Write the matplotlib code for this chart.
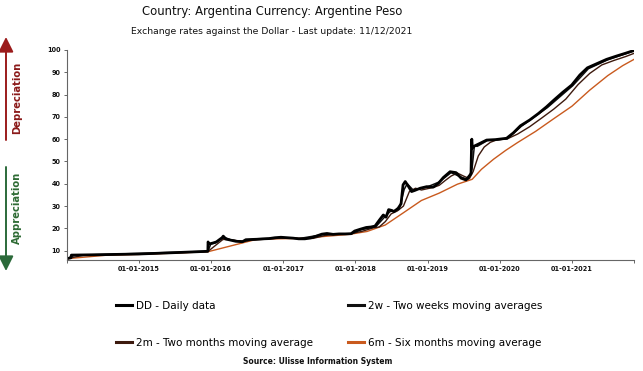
import matplotlib
matplotlib.use("Agg")
import matplotlib.pyplot as plt
from matplotlib.patches import FancyArrowPatch
import pandas as pd

# Daily data (DD)
dd_dates = ["2014-01-02", "2014-01-22", "2014-01-24", "2014-07-01", "2015-01-01", "2015-07-01",
            "2015-12-16", "2015-12-17", "2015-12-22", "2016-01-10", "2016-01-28", "2016-02-12",
            "2016-02-26", "2016-03-03", "2016-03-16", "2016-04-05", "2016-05-05", "2016-06-08",
            "2016-06-25", "2016-07-20", "2016-08-20", "2016-09-20", "2016-10-20", "2016-11-20",
            "2016-12-20", "2017-01-20", "2017-02-20", "2017-03-20", "2017-04-20", "2017-05-20",
            "2017-06-20", "2017-07-15", "2017-08-10", "2017-09-10", "2017-10-10", "2017-11-10",
            "2017-12-10", "2017-12-28", "2018-01-25", "2018-02-25", "2018-03-20", "2018-04-10",
            "2018-05-03", "2018-05-22", "2018-06-05", "2018-06-18", "2018-07-05", "2018-07-15",
            "2018-08-05", "2018-08-20", "2018-08-24", "2018-08-30", "2018-09-10", "2018-09-25",
            "2018-10-12", "2018-10-28", "2018-11-25", "2018-12-28", "2019-01-30", "2019-02-25",
            "2019-03-22", "2019-04-25", "2019-05-25", "2019-06-20", "2019-07-15", "2019-08-09",
            "2019-08-12", "2019-08-13", "2019-08-16", "2019-08-28", "2019-09-25", "2019-10-27",
            "2019-12-10", "2020-02-05", "2020-03-10", "2020-04-15", "2020-06-01", "2020-07-15",
            "2020-08-25", "2020-10-01", "2020-11-15", "2020-12-31", "2021-02-10", "2021-03-20",
            "2021-05-05", "2021-06-25", "2021-08-15", "2021-10-01", "2021-11-11"]
dd_values = [6.4, 6.8, 8.0, 8.2, 8.5, 9.1,
             9.7, 13.9, 13.0, 13.4, 13.9, 14.9,
             15.8, 16.5, 15.2, 14.8, 14.2, 14.0,
             14.9, 15.0, 15.1, 15.3, 15.4, 15.8,
             16.0, 15.8, 15.6, 15.3, 15.3, 15.7,
             16.6, 17.4, 17.7, 17.3, 17.5, 17.5,
             17.6, 18.8, 19.6, 20.4, 20.6, 21.0,
             23.8, 26.0, 25.0, 28.4, 28.0, 27.5,
             29.0, 31.0, 34.5, 39.5, 41.0, 39.0,
             36.5, 37.0, 38.0, 38.7, 38.5, 40.2,
             42.8, 45.4, 45.0, 42.5, 41.7, 44.5,
             59.0, 60.0, 56.0, 57.0, 58.2, 59.6,
             59.8, 60.4, 62.8, 66.0, 68.6, 71.5,
             74.5, 77.5, 81.0, 84.3, 88.8, 92.0,
             93.8, 95.8, 97.3, 98.6, 99.8]

# 2w - two weeks moving average
w2_dates = ["2014-01-02", "2014-02-07", "2015-12-16", "2015-12-31", "2016-01-20", "2016-02-20",
            "2016-03-12", "2016-04-10", "2016-06-12", "2016-07-20", "2016-12-20", "2017-03-20",
            "2017-07-20", "2017-12-15", "2018-01-30", "2018-04-15", "2018-05-28", "2018-06-25",
            "2018-08-10", "2018-09-05", "2018-09-20", "2018-10-20", "2018-12-28", "2019-03-01",
            "2019-04-30", "2019-06-25", "2019-07-25", "2019-08-14", "2019-08-26", "2019-09-10",
            "2019-10-31", "2020-02-10", "2020-04-20", "2020-08-30", "2021-01-05", "2021-03-25",
            "2021-07-01", "2021-11-11"]
w2_values = [6.4, 7.9, 9.7, 13.0, 13.4, 15.2,
             15.9, 14.8, 14.0, 14.9, 15.9, 15.4,
             17.2, 17.6, 19.4, 20.8, 25.0, 27.5,
             28.5, 37.5, 40.0, 37.2, 38.5, 40.8,
             45.0, 42.8, 42.0, 46.5, 57.0, 56.8,
             59.4, 60.2, 65.8, 74.2, 84.0, 91.6,
             95.6, 99.6]

# 2m - two months moving average
m2_dates = ["2014-01-02", "2014-03-25", "2014-07-01", "2015-01-01", "2015-07-01", "2015-12-16",
            "2016-03-01", "2016-04-01", "2016-05-10", "2016-06-20", "2016-08-01", "2016-10-01",
            "2016-12-01", "2017-02-01", "2017-04-01", "2017-06-01", "2017-08-01", "2017-10-01",
            "2017-12-01", "2018-02-01", "2018-04-01", "2018-05-01", "2018-06-01", "2018-07-01",
            "2018-08-01", "2018-09-01", "2018-10-01", "2018-11-01", "2018-12-01", "2019-01-01",
            "2019-02-01", "2019-03-01", "2019-04-01", "2019-05-01", "2019-06-01", "2019-07-01",
            "2019-08-01", "2019-08-20", "2019-09-15", "2019-10-15", "2019-11-15", "2019-12-15",
            "2020-02-10", "2020-04-01", "2020-06-01", "2020-08-01", "2020-10-01", "2020-12-01",
            "2021-02-01", "2021-04-01", "2021-06-01", "2021-08-01", "2021-10-01", "2021-11-11"]
m2_values = [6.4, 7.9, 8.1, 8.4, 9.0, 9.6,
             15.0, 15.0, 14.5, 14.2, 14.8, 15.1,
             15.5, 15.8, 15.4, 15.5, 16.8, 17.4,
             17.5, 18.6, 20.2, 20.6, 23.0, 26.5,
             27.8, 30.0, 36.5, 38.0, 37.2, 37.8,
             38.4, 39.3, 41.5, 43.5, 44.8, 43.5,
             42.3, 45.5, 52.5, 56.5, 58.6, 59.6,
             60.2, 62.3, 65.6, 69.5, 73.5, 78.0,
             84.5, 89.5, 93.3, 95.3, 97.1, 98.5]

# 6m - six months moving average
m6_dates = ["2014-01-02", "2014-07-15", "2015-01-01", "2015-07-01", "2015-12-16", "2016-08-20",
            "2016-12-01", "2017-04-01", "2017-08-01", "2017-12-01", "2018-03-01", "2018-06-01",
            "2018-09-01", "2018-12-01", "2019-03-01", "2019-06-01", "2019-08-15", "2019-10-01",
            "2019-12-01", "2020-02-01", "2020-04-01", "2020-07-01", "2020-10-01", "2021-01-01",
            "2021-04-01", "2021-07-01", "2021-09-15", "2021-11-11"]
m6_values = [6.4, 7.9, 8.3, 8.9, 9.5, 15.1,
             15.3, 15.5, 16.4, 17.3, 18.6, 21.5,
             27.0, 32.5, 35.8, 39.8, 42.0, 46.5,
             51.0, 55.0, 58.5, 63.5, 69.2, 74.8,
             82.0, 88.5, 93.0, 95.8]

year_ticks = ["2015-01-01", "2016-01-01", "2017-01-01", "2018-01-01",
              "2019-01-01", "2020-01-01", "2021-01-01"]
y_ticks = [10, 20, 30, 40, 50, 60, 70, 80, 90, 100]

W, H = 643, 371
fig = plt.figure(figsize=(W / 100, H / 100), dpi=100)
ax = fig.add_axes([67 / W, 1 - 260 / H, 567 / W, 210 / H])

ax.plot(pd.to_datetime(m6_dates), m6_values, color="#c95a1e", lw=1.0,
        label="6m - Six months moving average")
ax.plot(pd.to_datetime(m2_dates), m2_values, color="#3d1a0e", lw=1.0,
        label="2m - Two months moving average")
ax.plot(pd.to_datetime(w2_dates), w2_values, color="#111111", lw=1.1,
        label="2w - Two weeks moving averages")
ax.plot(pd.to_datetime(dd_dates), dd_values, color="black", lw=2.0,
        label="DD - Daily data")

start = pd.Timestamp(dd_dates[0])
end = pd.Timestamp(dd_dates[-1])
ax.set_xlim(start, end)
ax.set_ylim(5.8, 100)

ticks = [start] + list(pd.to_datetime(year_ticks)) + [end]
ax.set_xticks(ticks)
ax.set_xticklabels([""] + [pd.Timestamp(t).strftime("%d-%m-%Y") for t in year_ticks] + [""])
ax.set_yticks(y_ticks)

for s in ["top", "right"]:
    ax.spines[s].set_visible(False)
for s in ["left", "bottom"]:
    ax.spines[s].set_color("#666666")
    ax.spines[s].set_linewidth(0.8)
ax.tick_params(axis="both", labelsize=4.7, colors="#666666", labelcolor="#111111",
               length=2.5, width=0.7, pad=2)
for lbl in ax.get_xticklabels() + ax.get_yticklabels():
    lbl.set_fontweight("bold")

# legend in two columns under the plot
handles, labels = ax.get_legend_handles_labels()
order = [3, 1, 2, 0]
leg = fig.legend([handles[i] for i in order], [labels[i] for i in order],
                 loc="upper left", bbox_to_anchor=(116 / W, 1 - 301 / H), ncol=2,
                 frameon=False, fontsize=7.5, handlelength=1.55, handletextpad=0.4,
                 columnspacing=3.3, labelspacing=2.55, borderpad=0, borderaxespad=0)
for line in leg.get_lines():
    line.set_linewidth(2.2)

fig.text(272 / W, 1 - 12 / H, "Country: Argentina Currency: Argentine Peso",
         ha="center", va="center", fontsize=8.4, color="#111111")
fig.text(272 / W, 1 - 32 / H, "Exchange rates against the Dollar - Last update: 11/12/2021",
         ha="center", va="center", fontsize=6.7, color="#111111")
fig.text(318 / W, 1 - 362 / H, "Source: Ulisse Information System",
         ha="center", va="center", fontsize=5.5, fontweight="bold", color="#111111")

# depreciation / appreciation arrows on the left
red = "#9b1b1b"
green = "#2b6a3a"
fig.add_artist(FancyArrowPatch((6 / W, 1 - 140 / H), (6 / W, 1 - 37 / H),
                               transform=fig.transFigure, color=red, lw=1.4,
                               arrowstyle="-|>,head_length=0.9,head_width=0.45",
                               mutation_scale=10, shrinkA=0, shrinkB=0))
fig.add_artist(FancyArrowPatch((6 / W, 1 - 167 / H), (6 / W, 1 - 271 / H),
                               transform=fig.transFigure, color=green, lw=1.4,
                               arrowstyle="-|>,head_length=0.9,head_width=0.45",
                               mutation_scale=10, shrinkA=0, shrinkB=0))
fig.text(17 / W, 1 - 98 / H, "Depreciation", rotation=90, ha="center", va="center",
         fontsize=7.2, fontweight="bold", color="#8b1a1a")
fig.text(17 / W, 1 - 208 / H, "Appreciation", rotation=90, ha="center", va="center",
         fontsize=7.2, fontweight="bold", color="#2e6b34")

fig.savefig("out.png", dpi=100)
